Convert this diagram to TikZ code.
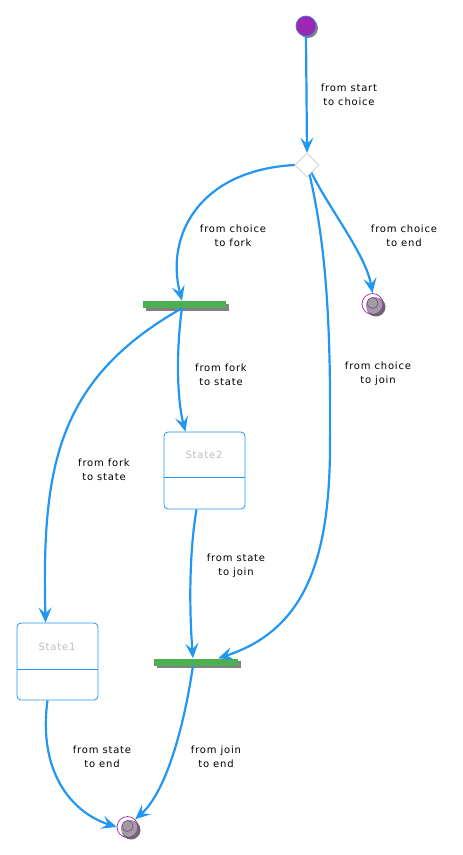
\documentclass[tikz,border=0pt]{standalone}
\usepackage{fontspec}
\setmainfont{DejaVu Sans}[LetterSpace=8]
\usetikzlibrary{arrows.meta,shapes.geometric,calc}
\definecolor{arrowblue}{RGB}{33,150,243}
\definecolor{startpurple}{RGB}{156,39,176}
\definecolor{bargreen}{RGB}{76,175,80}
\definecolor{shadowgrey}{RGB}{130,130,130}
\definecolor{endgrey}{RGB}{158,158,158}
\definecolor{statetext}{RGB}{190,190,190}
\begin{document}
\begin{tikzpicture}[x=1pt,y=-1pt,
  conn/.style={draw=arrowblue,line width=2.2pt,-{Stealth[length=15pt,width=13pt,inset=6pt]}},
  lbl/.style={font=\fontsize{10}{14}\selectfont,align=center,text=black},
  statebox/.style={draw=arrowblue,line width=0.8pt,fill=white,rounded corners=4pt,minimum width=81pt,minimum height=77pt,inner sep=0pt},
  barnode/.style={fill=bargreen,minimum height=7pt,inner sep=0pt},
  barshadow/.style={fill=shadowgrey,minimum height=7pt,inner sep=0pt},
  choicebox/.style={diamond,draw=black!20,fill=white,line width=0.6pt,minimum width=24pt,minimum height=24pt,inner sep=0pt,aspect=1},
  endring/.style={circle,draw=startpurple,line width=0.7pt,minimum size=21pt,inner sep=0pt},
  stxt/.style={text=statetext,font=\fontsize{10}{11}\selectfont}
]
\useasboundingbox (0,0) rectangle (463,855);

% start
\fill[shadowgrey] (308,28) circle (10);
\node[circle,fill=startpurple,draw=arrowblue!70!startpurple,line width=0.7pt,minimum size=20pt,inner sep=0pt] (start) at (306,26) {};

% choice
\node[choicebox] (choice) at (307,165) {};

% fork bar
\node[barshadow,minimum width=83pt] at (187,307) {};
\node[barnode,minimum width=83pt] (fork) at (184.5,304.5) {};

% join bar
\node[barshadow,minimum width=84pt] at (199,664.5) {};
\node[barnode,minimum width=84pt] (join) at (196,662) {};

% states
\node[statebox] (s2) at (204.5,470.5) {};
\draw[arrowblue,line width=0.8pt] (s2.west |- 0,477) -- (s2.east |- 0,477);
\node[stxt] (s2t) at (204,455) {State2};

\node[statebox] (s1) at (57.5,661.5) {};
\draw[arrowblue,line width=0.8pt] (s1.west |- 0,669) -- (s1.east |- 0,669);
\node[stxt] (s1t) at (57,647) {State1};

% end nodes
\fill[shadowgrey!80!black] (376,307) circle (9.5);
\fill[endgrey] (374.5,305.5) circle (8.5);
\draw[startpurple,line width=0.6pt] (372.5,303) circle (5.5);
\node[endring] (end1) at (372.5,304) {};

\fill[shadowgrey!80!black] (131,830) circle (9.5);
\fill[endgrey] (129.5,828.5) circle (8.5);
\draw[startpurple,line width=0.6pt] (127.5,826) circle (5.5);
\node[endring] (end2) at (127.5,827) {};

% connectors
\draw[conn] (start.south) -- (choice.north);
\draw[conn] (choice.west) .. controls (200,170) and (165,235) .. ($(fork.north)+(-2.5,0)$);
\draw[conn] (choice.-60) .. controls (330,210) and (366,255) .. (end1.north);
\draw[conn] (choice.-75) .. controls (327,250) and (331,330) .. (330,450)
  .. controls (329,560) and (305,630) .. ($(join.north east)+(-20,0)$);
\draw[conn] ($(fork.south)+(-2.5,0)$) .. controls (176,350) and (177,400) .. ($(s2.north)+(-19,0)$);
\draw[conn] ($(fork.south)+(-2.5,0)$) .. controls (55,380) and (42,470) .. ($(s1.north)+(-12,0)$);
\draw[conn] ($(s2.south)+(-8,0)$) .. controls (188,560) and (190,620) .. ($(join.north)+(-3,0)$);
\draw[conn] ($(s1.south)+(-10,0)$) .. controls (38,770) and (70,812) .. (end2.west);
\draw[conn] ($(join.south)+(-3,0)$) .. controls (185,720) and (168,790) .. (end2.north east);

% labels
\node[lbl] (l1) at (349,95) {from start\\to choice};
\node[lbl] (l2) at (233,236) {from choice\\to fork};
\node[lbl] (l3) at (404,236) {from choice\\to end};
\node[lbl] (l4) at (378,374) {from choice\\to join};
\node[lbl] (l5) at (221,375) {from fork\\to state};
\node[lbl] (l6) at (104,470) {from fork\\to state};
\node[lbl] (l7) at (236,566) {from state\\to join};
\node[lbl] (l8) at (102,757) {from state\\to end};
\node[lbl] (l9) at (216,757) {from join\\to end};
\end{tikzpicture}
\end{document}
